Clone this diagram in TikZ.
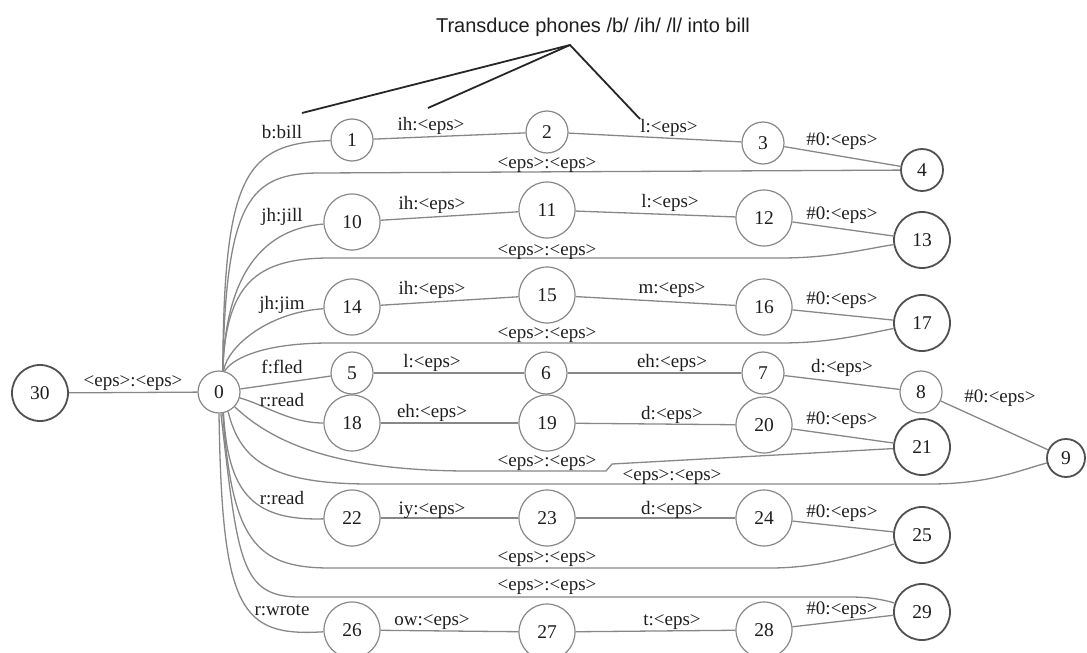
\documentclass[tikz,border=0pt]{standalone}
\usepackage{fontspec}
\setmainfont{Liberation Serif}
\newfontfamily\titlefont{Liberation Sans}
\definecolor{edgegray}{RGB}{135,135,135}
\definecolor{findark}{RGB}{80,80,80}
\definecolor{txt}{RGB}{30,30,30}
\begin{document}
\begin{tikzpicture}[x=1pt,y=-1pt,
  st/.style={circle,draw=edgegray,line width=1.2pt,minimum size=42pt,inner sep=0pt,text=txt,font=\fontsize{19.5}{22}\selectfont},
  stw/.style={st,minimum size=56pt},
  fin/.style={draw=findark,line width=1.8pt},
  edge/.style={draw=edgegray,line width=1.3pt},
  lab/.style={text=txt,font=\fontsize{19}{22}\selectfont,inner sep=0pt},
  callout/.style={draw=black!85,line width=1.8pt}]
\useasboundingbox (0,0) rectangle (1087,653);
% title and callout
\node[text=txt,font=\titlefont\fontsize{20}{23}\selectfont,inner sep=0pt] (title) at (593,27) {Transduce phones /b/ /ih/ /l/ into bill};
\coordinate (apex) at (570,45);
\coordinate (cb) at (302,113);
\coordinate (ci) at (428,108);
\coordinate (cl) at (640,119);
\draw[callout] (cb) -- (apex) -- (cl);
\draw[callout] (ci) -- (apex);
% states
\node[stw,fin] (n30) at (40,393) {30};
\node[st] (n0) at (219,392) {0};
\node[st] (n1) at (352,140) {1};
\node[st] (n2) at (547,132) {2};
\node[st] (n3) at (763,143) {3};
\node[st,fin] (n4) at (922,170) {4};
\node[stw] (n10) at (352,222) {10};
\node[stw] (n11) at (547,210) {11};
\node[stw] (n12) at (764,218) {12};
\node[stw,fin] (n13) at (922,240) {13};
\node[stw] (n14) at (352,307) {14};
\node[stw] (n15) at (547,295) {15};
\node[stw] (n16) at (764,307) {16};
\node[stw,fin] (n17) at (922,323) {17};
\node[st] (n5) at (352,373) {5};
\node[st] (n6) at (546,373) {6};
\node[st] (n7) at (763,373) {7};
\node[st] (n8) at (921,392) {8};
\node[st,fin,minimum size=38pt] (n9) at (1066,458) {9};
\node[stw] (n18) at (352,423) {18};
\node[stw] (n19) at (547,423) {19};
\node[stw] (n20) at (764,425) {20};
\node[stw,fin] (n21) at (922,447) {21};
\node[stw] (n22) at (352,518) {22};
\node[stw] (n23) at (547,518) {23};
\node[stw] (n24) at (764,518) {24};
\node[stw,fin] (n25) at (922,535) {25};
\node[stw] (n26) at (352,630) {26};
\node[stw] (n27) at (547,632) {27};
\node[stw] (n28) at (764,630) {28};
\node[stw,fin] (n29) at (922,612) {29};
% chain edges
\draw[edge] (n30) -- (n0);
\draw[edge] (n1) -- (n2);
\draw[edge] (n2) -- (n3);
\draw[edge] (n3) -- (n4);
\draw[edge] (n10) -- (n11);
\draw[edge] (n11) -- (n12);
\draw[edge] (n12) -- (n13);
\draw[edge] (n14) -- (n15);
\draw[edge] (n15) -- (n16);
\draw[edge] (n16) -- (n17);
\draw[edge] (n5) -- (n6);
\draw[edge] (n6) -- (n7);
\draw[edge] (n7) -- (n8);
\draw[edge] (n8) -- (n9);
\draw[edge] (n18) -- (n19);
\draw[edge] (n19) -- (n20);
\draw[edge] (n20) -- (n21);
\draw[edge] (n22) -- (n23);
\draw[edge] (n23) -- (n24);
\draw[edge] (n24) -- (n25);
\draw[edge] (n26) -- (n27);
\draw[edge] (n27) -- (n28);
\draw[edge] (n28) -- (n29);
% fan from state 0
\draw[edge] (n0.80) .. controls (224,175) and (245,143) .. (n1);
\draw[edge] (n0.80) .. controls (226,200) and (250,173) .. (320,173) -- (n4);
\draw[edge] (n0.80) .. controls (226,265) and (270,228) .. (n10);
\draw[edge] (n0.80) .. controls (226,285) and (255,258) .. (330,258) -- (780,258) .. controls (830,258) and (860,250) .. (n13);
\draw[edge] (n0.78) .. controls (228,345) and (270,312) .. (n14);
\draw[edge] (n0.75) .. controls (230,362) and (255,343) .. (330,343) -- (780,343) .. controls (830,343) and (860,335) .. (n17);
\draw[edge] (n0) -- (n5);
\draw[edge] (n0) .. controls (265,405) and (290,423) .. (n18);
\draw[edge] (n0) .. controls (270,440) and (330,471) .. (470,471) -- (606,471) -- (612,464) -- (n21);
\draw[edge] (n0.-65) .. controls (240,460) and (270,484) .. (370,484) -- (930,484) .. controls (990,484) and (1020,470) .. (n9);
\draw[edge] (n0.-78) .. controls (228,490) and (250,521) .. (n22);
\draw[edge] (n0.-80) .. controls (232,540) and (255,568) .. (330,568) -- (770,568) .. controls (820,568) and (860,555) .. (n25);
\draw[edge] (n0.-85) .. controls (238,560) and (240,597) .. (300,597) -- (850,597) .. controls (870,597) and (885,600) .. (n29);
\draw[edge] (n0.-90) .. controls (222,610) and (240,637) .. (n26);
% labels
\node[lab] (l300) at (133,383) {<eps>:<eps>};
\node[lab] (lb) at (282,132) {b:bill};
\node[lab] (l12) at (431,126) {ih:<eps>};
\node[lab] (l23) at (669,128) {l:<eps>};
\node[lab] (l34) at (842,141) {\#0:<eps>};
\node[lab] (le4) at (547,165) {<eps>:<eps>};
\node[lab] (ljill) at (282,217) {jh:jill};
\node[lab] (l1011) at (432,205) {ih:<eps>};
\node[lab] (l1112) at (670,203) {l:<eps>};
\node[lab] (l1213) at (842,215) {\#0:<eps>};
\node[lab] (le13) at (547,252) {<eps>:<eps>};
\node[lab] (ljim) at (282,305) {jh:jim};
\node[lab] (l1415) at (432,290) {ih:<eps>};
\node[lab] (l1516) at (672,290) {m:<eps>};
\node[lab] (l1617) at (842,300) {\#0:<eps>};
\node[lab] (le17) at (547,335) {<eps>:<eps>};
\node[lab] (lfled) at (282,367) {f:fled};
\node[lab] (l56) at (432,363) {l:<eps>};
\node[lab] (l67) at (672,363) {eh:<eps>};
\node[lab] (l78) at (842,368) {d:<eps>};
\node[lab] (l89) at (1000,398) {\#0:<eps>};
\node[lab] (lread1) at (282,400) {r:read};
\node[lab] (l1819) at (432,413) {eh:<eps>};
\node[lab] (l1920) at (672,415) {d:<eps>};
\node[lab] (l2021) at (842,420) {\#0:<eps>};
\node[lab] (le21) at (547,463) {<eps>:<eps>};
\node[lab] (le9) at (672,477) {<eps>:<eps>};
\node[lab] (lread2) at (282,498) {r:read};
\node[lab] (l2223) at (432,510) {iy:<eps>};
\node[lab] (l2324) at (672,510) {d:<eps>};
\node[lab] (l2425) at (842,513) {\#0:<eps>};
\node[lab] (le25) at (547,559) {<eps>:<eps>};
\node[lab] (le29) at (547,587) {<eps>:<eps>};
\node[lab] (lwrote) at (282,610) {r:wrote};
\node[lab] (l2627) at (432,622) {ow:<eps>};
\node[lab] (l2728) at (672,622) {t:<eps>};
\node[lab] (l2829) at (842,610) {\#0:<eps>};
\end{tikzpicture}
\end{document}
